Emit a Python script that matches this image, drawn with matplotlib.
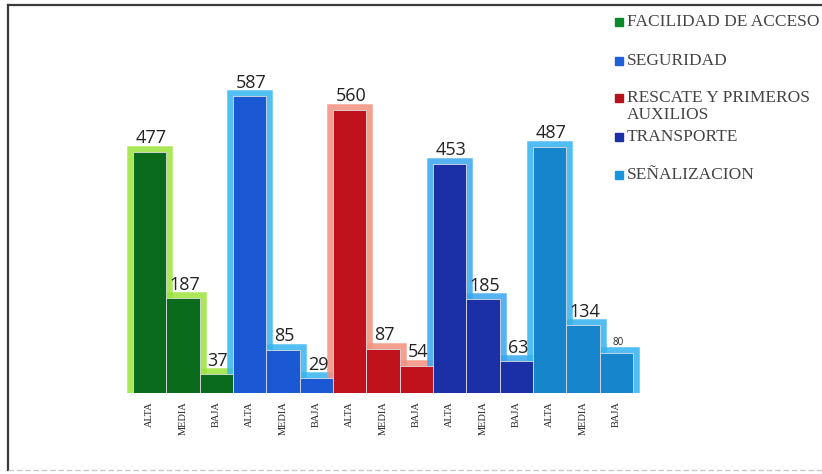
import matplotlib.pyplot as plt
from matplotlib.patches import Rectangle
from matplotlib.lines import Line2D

# Datos del grafico
niveles = ['ALTA', 'MEDIA', 'BAJA']
categorias = ['FACILIDAD DE ACCESO', 'SEGURIDAD', 'RESCATE Y PRIMEROS\nAUXILIOS',
              'TRANSPORTE', 'SEÑALIZACION']
facilidad = [477, 187, 37]
seguridad = [587, 85, 29]
rescate = [560, 87, 54]
transporte = [453, 185, 63]
senalizacion = [487, 134, 80]

colores = ['#0b6b1c', '#1a58d4', '#c0121c', '#1b2fa6', '#1685cc']
brillos = ['#9be33c', '#35b4f2', '#f3907e', '#38a6ef', '#33b2f0']
marcas_leyenda = ['#0b8a2a', '#1f5fd8', '#b5121b', '#1b2fa6', '#1a95dd']

series = [facilidad, seguridad, rescate, transporte, senalizacion]

W, H = 822, 474
fig = plt.figure(figsize=(8.22, 4.74), dpi=100)
# 15 barras de 33.3 px; margen extra para el halo lateral
ax = fig.add_axes([123 / W, 81 / H, 520 / W, 354 / H])

# Marco exterior (arriba e izquierda oscuros, abajo tenue)
fig.lines.append(Line2D([8 / W, 1], [1 - 5 / H, 1 - 5 / H], transform=fig.transFigure,
                        color='#3a3a3a', linewidth=1.6))
fig.lines.append(Line2D([8 / W, 8 / W], [1 - 5 / H, 1 - 470 / H], transform=fig.transFigure,
                        color='#3a3a3a', linewidth=1.6))
fig.lines.append(Line2D([8 / W, 1], [1 - 470 / H, 1 - 470 / H], transform=fig.transFigure,
                        color='#c8c8c8', linewidth=1.0, linestyle=(0, (4, 2))))

pos = 0
xs_ticks = []
etiquetas = []
for i, valores in enumerate(series):
    xs = list(range(pos, pos + len(valores)))
    # halo alrededor de las barras
    ax.bar(xs, valores, width=1.0, color=brillos[i], edgecolor=brillos[i],
           linewidth=9, zorder=1, alpha=0.85)
    ax.bar(xs, valores, width=1.0, color=colores[i], edgecolor='#dddddd',
           linewidth=0.6, zorder=2)
    for x, v in zip(xs, valores):
        tam = 7 if v == 80 else 13
        ax.text(x + 0.05, v + 9, str(v), ha='center', va='bottom', fontsize=tam,
                family='Open Sans', color='#222222', zorder=3)
    xs_ticks += xs
    etiquetas += niveles
    pos += len(valores)

ax.set_xlim(-0.8, 14.8)
ax.set_ylim(0, 700)
ax.set_xticks(xs_ticks)
ax.set_xticklabels(etiquetas, rotation=90, fontsize=7.5, family='Liberation Serif',
                   color='#222222')
ax.tick_params(axis='x', length=0, pad=6)
ax.set_yticks([])
for s in ax.spines.values():
    s.set_visible(False)

# Leyenda manual
ys = [22, 61, 98, 137, 175]
for c, texto, y in zip(marcas_leyenda, categorias, ys):
    fig.patches.append(Rectangle((615 / W, 1 - (y + 4) / H), 8 / W, 8 / H,
                                 transform=fig.transFigure, color=c))
    fig.text(627 / W, 1 - (y - 8) / H if '\n' in texto else 1 - y / H, texto,
             fontsize=12.5, family='Liberation Serif',
             va='top' if '\n' in texto else 'center', ha='left', color='#444444',
             linespacing=1.1)

fig.savefig('out.png', dpi=100)
